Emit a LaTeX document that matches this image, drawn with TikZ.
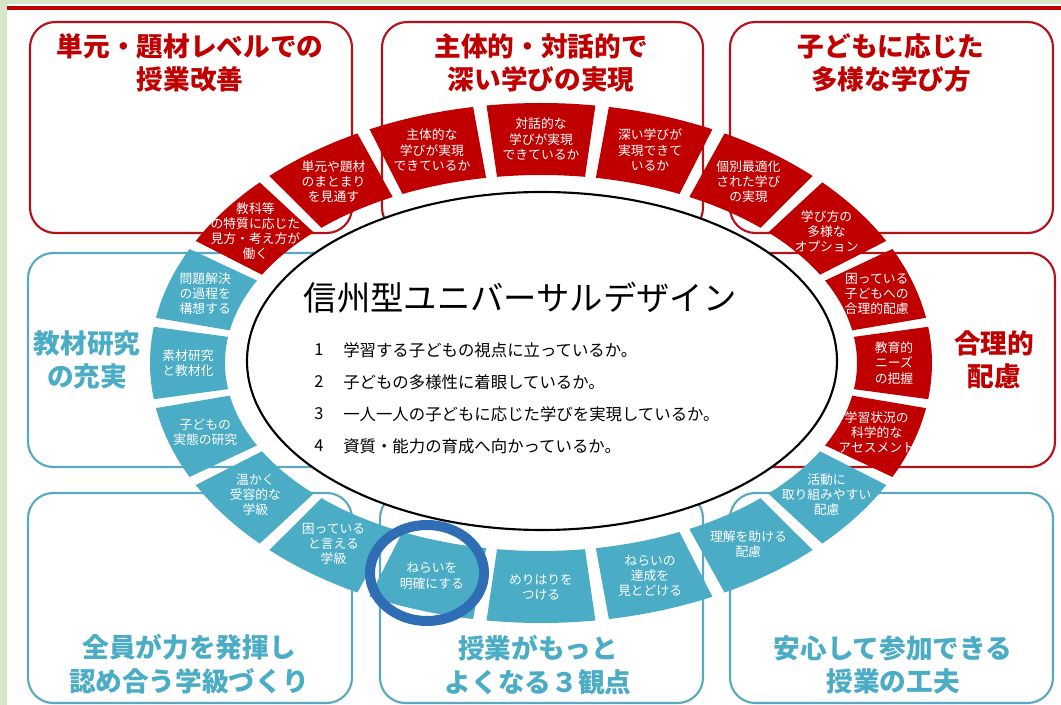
\documentclass[tikz,border=0pt]{standalone}
\usepackage{fontspec}
\setmainfont{Noto Sans CJK JP}
\definecolor{segred}{HTML}{C00000}
\definecolor{segteal}{HTML}{4BACC6}
\definecolor{boxred}{HTML}{B3121B}
\definecolor{boxteal}{HTML}{5AA9C0}
\definecolor{bggreen}{HTML}{D5E6C9}
\definecolor{ringblue}{HTML}{2F6EB5}
\begin{document}
\begin{tikzpicture}[x=0.75pt,y=-0.75pt,
  redbox/.style={draw=boxred, line width=1.6pt, rounded corners=19pt},
  tealbox/.style={draw=boxteal, line width=1.6pt, rounded corners=19pt},
  titletext/.style={font=\fontsize{20}{25}\selectfont\bfseries, align=center, inner sep=0pt},
  segtext/.style={text=white, font=\fontsize{9.6}{11.4}\selectfont, align=center, inner sep=0pt},
  listtext/.style={font=\fontsize{12.3}{14}\selectfont, inner sep=0pt, anchor=west}]
\useasboundingbox (0,0) rectangle (1061,705);
% background
\fill[white] (0,0) rectangle (1061,705);
\fill[bggreen] (0,0) rectangle (7,705);
\fill[bggreen] (0,0) rectangle (1061,4.5);
\fill[segred] (7,6) rectangle (1061,10.5);
% boxes
\draw[redbox] (30,22) rectangle (352,233);
\draw[redbox] (382,22) rectangle (703,233);
\draw[redbox] (730,22) rectangle (1053,233);
\draw[tealbox] (28,253) rectangle (540,467);
\draw[redbox] (545,253) rectangle (1055,467);
\draw[tealbox] (28,493) rectangle (352,703);
\draw[tealbox] (380,493) rectangle (703,703);
\draw[tealbox] (730,493) rectangle (1053,703);
% titles
\node[titletext, text=segred] (t1) at (190,63) {単元・題材レベルでの\\授業改善};
\node[titletext, text=segred] (t2) at (541,63) {主体的・対話的で\\深い学びの実現};
\node[titletext, text=segred] (t3) at (891,63) {子どもに応じた\\多様な学び方};
\node[titletext, text=segteal] (t4) at (87,360) {教材研究\\の充実};
\node[titletext, text=segred] (t5) at (994,360) {合理的\\配慮};
\node[titletext, text=segteal] (t6) at (189,664) {全員が力を発揮し\\認め合う学級づくり};
\node[titletext, text=segteal] (t7) at (538,665) {授業がもっと\\よくなる３観点};
\node[titletext, text=segteal] (t8) at (893,665) {安心して参加できる\\授業の工夫};
% central ellipse
\draw[black, line width=1.6pt, fill=white] (542,361) ellipse[x radius=295, y radius=169];
\node[font=\fontsize{25}{30}\selectfont, inner sep=0pt] (ctitle) at (520,298) {信州型ユニバーサルデザイン};
\node[listtext] (n1) at (314,350) {1};
\node[listtext] (n2) at (314,382) {2};
\node[listtext] (n3) at (314,414) {3};
\node[listtext] (n4) at (314,446) {4};
\node[listtext] (l1) at (343,350) {学習する子どもの視点に立っているか。};
\node[listtext] (l2) at (343,382) {子どもの多様性に着眼しているか。};
\node[listtext] (l3) at (343,414) {一人一人の子どもに応じた学びを実現しているか。};
\node[listtext] (l4) at (343,446) {資質・能力の育成へ向かっているか。};
% ring segments
\foreach \ang/\col/\txt in {
  144/segred/{教科等\\の特質に応じた\\見方・考え方が\\働く},
  126/segred/{単元や題材\\のまとまり\\を見通す},
  108/segred/{主体的な\\学びが実現\\できているか},
  90/segred/{対話的な\\学びが実現\\できているか},
  72/segred/{深い学びが\\実現できて\\いるか},
  54/segred/{個別最適化\\された学び\\の実現},
  36/segred/{学び方の\\多様な\\オプション},
  18/segred/{困っている\\子どもへの\\合理的配慮},
  0/segred/{教育的\\ニーズ\\の把握},
  -18/segred/{学習状況の\\科学的な\\アセスメント},
  -36/segteal/{活動に\\取り組みやすい\\配慮},
  -54/segteal/{理解を助ける\\配慮},
  -72/segteal/{ねらいの\\達成を\\見とどける},
  -90/segteal/{めりはりを\\つける},
  -108/segteal/{ねらいを\\明確にする},
  -126/segteal/{困っている\\と言える\\学級},
  -144/segteal/{温かく\\受容的な\\学級},
  -162/segteal/{子どもの\\実態の研究},
  180/segteal/{素材研究\\と教材化},
  162/segteal/{問題解決\\の過程を\\構想する}} {
  \pgfmathsetmacro\aa{\ang-8}
  \pgfmathsetmacro\bb{\ang+8}
  \fill[\col] ({541+391*cos(\aa)},{363-260*sin(\aa)})
     arc[start angle=-\aa, end angle=-\bb, x radius=391, y radius=260]
     -- ({541+316*cos(\bb)},{363-188*sin(\bb)})
     arc[start angle=-\bb, end angle=-\aa, x radius=316, y radius=188] -- cycle;
  \node[segtext] (s\ang) at ({541+353*cos(\ang)},{363-224*sin(\ang)}) {\txt};
}
% highlight circle
\draw[ringblue, line width=7.5pt] (427,573) ellipse[x radius=57, y radius=48];
\end{tikzpicture}
\end{document}
